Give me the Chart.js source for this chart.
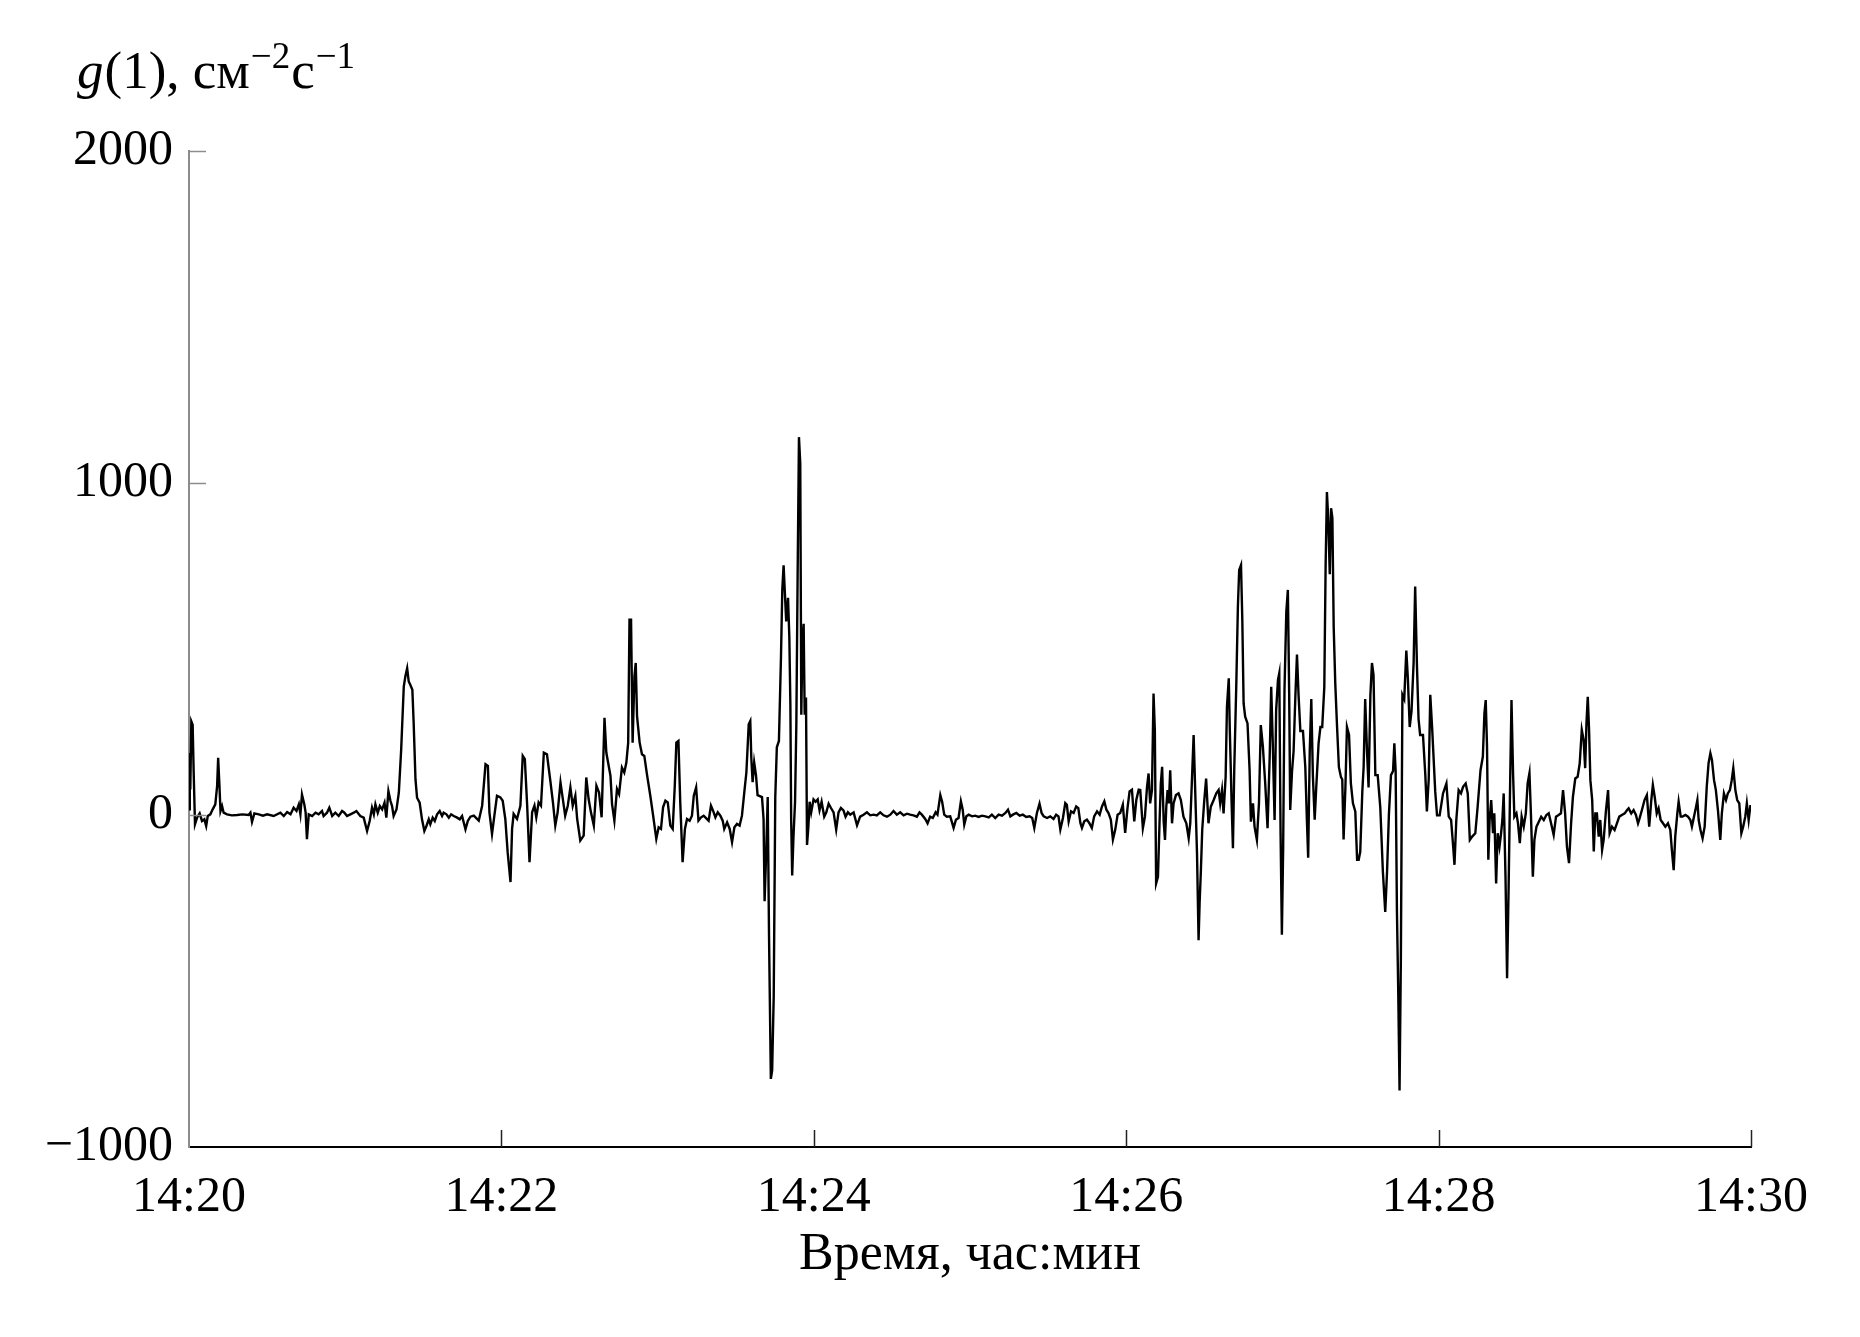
<!DOCTYPE html>
<html>
<head>
<meta charset="utf-8">
<script src="https://cdn.jsdelivr.net/npm/chart.js@4.4.1/dist/chart.umd.min.js"></script>
<style>
    body { margin: 0; background: #fff; }
    #wrap { width: 1860px; height: 1337px; }
</style>
</head>
<body>
<div id="wrap"><canvas id="flux-chart"></canvas></div>
<script>
// Samples: [seconds after 14:20:00, g(1) value]
const g1420 = [
    [0, 17], [0.3, 187], [0.5, 77], [0.9, 282], [1.4, 272], [1.8, 127], [2.3, -28], [3.1, -8], [4.1, 5], [5.0, -18],
    [5.9, -13], [6.6, -33], [7.2, -3], [8.2, 2], [9.1, 17], [10.1, 32], [10.8, 87], [11.2, 172], [11.7, 87], [12.1, 12],
    [12.7, 27], [13.3, 7], [14.6, 2], [16.5, -1], [18.5, 0], [20.5, 2], [22.9, 0], [23.6, 7], [24.2, -21], [25.1, 5],
    [26.8, 2], [28.4, -2], [30.0, 2], [32.5, -3], [35.1, 7], [36.4, -3], [37.7, 9], [39.0, 2], [40.2, 22], [41.3, 12],
    [42.2, 32], [42.8, 2], [43.4, 62], [44.3, 32], [44.8, 7], [45.3, -73], [46.0, 2], [47.3, -3], [48.6, 7], [49.8, 2],
    [51.1, 12], [51.7, -3], [53.0, 7], [53.9, 22], [55.0, -3], [56.2, 7], [57.5, -3], [58.8, 12], [59.7, 7], [60.7, -3],
    [62.0, 2], [63.3, 7], [64.3, 12], [65.8, -3], [67.1, -8], [68.4, -48], [69.4, -18], [70.3, 22], [71.0, 2], [71.6, 32],
    [72.5, 7], [73.3, 27], [74.2, 17], [75.1, 37], [75.8, -8], [76.6, 72], [77.4, 42], [78.0, 27], [78.6, -3], [79.7, 17],
    [80.6, 67], [81.5, 197], [82.5, 387], [83.1, 417], [83.8, 442], [84.4, 402], [85.0, 392], [85.8, 377], [86.3, 277], [87.0, 107],
    [87.6, 52], [88.6, 37], [89.5, -13], [90.4, -48], [91.2, -33], [92.1, -13], [92.7, -28], [93.6, -8], [94.4, -18], [95.3, 2],
    [96.3, 12], [97.2, -3], [97.8, 7], [98.9, 2], [99.8, -8], [100.7, 2], [101.7, -3], [103.0, -8], [104.0, -13], [104.9, -3],
    [106.2, -43], [107.1, -18], [108.1, -5], [109.4, -2], [111.3, -17], [112.6, 28], [113.9, 153], [114.8, 148], [115.4, 8], [116.4, -57],
    [117.3, -2], [118.3, 58], [119.6, 53]
];
const g1422 = [
    [120.5, 43], [121.5, -12], [122.4, -112], [123.5, -202], [124.1, -42], [124.7, 3], [126.0, -12], [127.3, 28], [128.2, 178], [129.0, 168],
    [129.9, 28], [130.8, -142], [131.8, 8], [132.7, 28], [133.4, -7], [134.3, 38], [135.2, 28], [136.3, 188], [137.5, 183], [138.8, 103],
    [139.8, 38], [140.7, -32], [141.6, 8], [142.7, 98], [143.6, 48], [144.5, -2], [145.5, 28], [146.5, 83], [147.4, 28], [148.4, 58],
    [149.1, -12], [150.3, -77], [151.6, -62], [152.6, 113], [153.5, 48], [154.4, 8], [155.5, -32], [156.5, 88], [157.5, 68], [158.5, -7],
    [159.6, 293], [160.3, 188], [161.1, 153], [161.9, 118], [162.5, 33], [163.4, -17], [164.4, 78], [165.2, 63], [166.3, 143], [167.2, 128],
    [168.0, 158], [168.7, 218], [169.2, 588], [169.8, 588], [170.4, 218], [171.1, 418], [171.6, 458], [172.1, 298], [173.1, 218], [174.0, 183],
    [174.9, 178], [175.9, 123], [177.2, 58], [178.2, 3], [179.5, -72], [180.4, -37], [181.3, -42], [182.1, 23], [183.0, 43], [183.9, 38],
    [184.9, -32], [185.8, -42], [186.6, 88], [187.2, 218], [188.0, 223], [188.7, 38], [189.6, -142], [190.5, -42], [191.3, -12], [192.3, -17],
    [193.2, -2], [193.9, 58], [194.8, 83], [195.7, -17], [196.7, -7], [197.7, -2], [198.7, -10], [199.6, -17], [200.5, 28], [201.3, 13],
    [202.2, -7], [203.1, 8], [204.1, -2], [205.0, -17], [205.6, -42], [206.7, -22], [207.7, -42], [208.6, -82], [209.5, -37], [210.5, -27],
    [211.5, -32], [212.4, -2], [213.3, 68], [214.1, 128], [215.0, 273], [215.6, 283], [216.0, 171], [216.5, 99], [217.1, 158], [217.8, 119],
    [218.4, 60], [220.1, 54], [220.7, -12], [221.1, -260], [221.7, -116], [222.3, 54], [222.8, -364], [223.5, -795], [224.0, -769], [224.6, -547],
    [225.2, 54], [225.8, 204], [226.6, 223], [227.4, 478], [227.9, 680], [228.4, 752], [228.9, 667], [229.4, 583], [230.1, 654], [230.6, 537],
    [231.0, 334], [231.3, -12], [231.7, -182], [232.2, -64], [232.8, 40], [233.3, 276], [233.8, 733], [234.3, 1138], [234.8, 1059], [235.2, 302],
    [235.6, 511], [236.1, 576], [236.5, 302], [237.0, 354], [237.4, -90], [237.9, -38], [238.4, 40], [239.0, 8], [239.9, 47]
];
const g1424 = [
    [240.7, 40], [241.5, 47], [242.2, 14], [243.0, 40], [244.0, -5], [244.8, 8], [245.7, 34], [246.6, 21], [247.6, 8], [248.6, -44],
    [249.5, 8], [250.4, 21], [251.4, 14], [252.2, -5], [253.1, 8], [254.0, 1], [255.3, 8], [256.6, -31], [257.8, -5], [259.1, 1],
    [260.4, 8], [261.7, -1], [263.0, 1], [264.2, -1], [265.5, 8], [266.8, -1], [268.1, -5], [269.4, 1], [270.6, 12], [271.9, 1],
    [273.2, 8], [274.5, -1], [275.8, 4], [277.0, 1], [278.3, -1], [279.6, -5], [280.6, 8], [281.5, 1], [282.8, -12], [283.7, -25],
    [284.7, -5], [285.7, -9], [286.8, 8], [287.5, 1], [288.6, 60], [289.3, 40], [290.1, 1], [291.1, -5], [292.4, -4], [293.7, -39],
    [294.6, -14], [295.6, -9], [296.5, 41], [297.2, 16], [297.8, -29], [298.6, -4], [299.5, 1], [300.8, -4], [302.0, -2], [303.3, -6],
    [304.6, -2], [305.9, -4], [307.2, -7], [308.4, 1], [309.7, -9], [311.0, 1], [312.3, -2], [313.6, 6], [314.6, 16], [315.5, -4],
    [316.5, 1], [317.8, 6], [319.1, -2], [320.3, 1], [321.6, -6], [322.9, -4], [323.9, -9], [324.7, -39], [325.7, 6], [326.7, 34],
    [327.5, 6], [328.3, -4], [329.6, -9], [330.8, -4], [332.1, -12], [333.1, 1], [334.0, -4], [334.7, -44], [335.7, -9], [336.6, 36],
    [337.2, 31], [337.9, -19], [338.8, 11], [339.8, 6], [340.8, 26], [341.6, 21], [342.4, -24], [343.0, -39], [343.9, -19], [344.9, -14],
    [345.8, -24], [346.8, -39], [347.7, -4], [348.8, 11], [349.8, 1], [350.7, 26], [351.6, 41], [352.4, 16], [353.2, 6], [354.1, -14],
    [354.9, -74], [355.8, -44], [356.7, 1], [357.7, 6], [358.7, 31], [359.6, -54]
];
const g1426 = [
    [360.5, 21], [361.3, 71], [362.2, 76], [363.1, -19], [363.9, 46], [364.8, 76], [365.4, 75], [366.4, -40], [367.2, -5], [368.0, 85],
    [368.6, 125], [369.2, 35], [369.9, 75], [370.5, 366], [371.0, 256], [371.5, -206], [372.2, -186], [372.8, -25], [373.3, 95], [373.8, 145],
    [374.4, -20], [374.9, -75], [375.4, 25], [375.9, 75], [376.4, 35], [376.9, 135], [377.6, -25], [378.2, 35], [379.1, 60], [380.1, 65],
    [381.0, 45], [382.0, -5], [383.1, -25], [384.0, -70], [384.6, -25], [385.2, 95], [385.9, 241], [386.5, 75], [387.2, -116], [387.8, -377],
    [388.2, -266], [388.7, -165], [389.2, -45], [390.0, 45], [390.7, 110], [391.6, -25], [392.5, 25], [393.6, 45], [394.6, 65], [395.5, 75],
    [396.1, 35], [396.8, 75], [397.4, 5], [398.2, 115], [398.7, 326], [399.4, 412], [399.8, 256], [400.5, 35], [401.0, -100], [401.5, 135],
    [402.3, 397], [402.9, 627], [403.4, 738], [404.1, 753], [404.6, 588], [405.1, 336], [405.7, 296], [406.6, 276], [407.4, 135], [407.9, -20],
    [408.7, 35], [409.3, -35], [410.2, -75], [411.0, 35], [411.7, 271], [412.5, 206], [413.4, 95], [414.3, -40], [415.1, 170], [415.7, 386],
    [416.3, 216], [417.0, -15], [417.6, 316], [418.3, 407], [418.8, 427], [419.3, -55], [419.8, -361], [420.3, -95], [420.8, 376], [421.5, 612],
    [422.1, 678], [422.6, 366], [423.0, 15], [423.7, 132], [424.3, 192], [425.0, 362], [425.6, 483], [426.2, 362], [426.9, 253], [427.9, 253],
    [428.8, 144], [429.4, -14], [429.9, -129], [430.5, 192], [431.1, 349], [431.7, 120], [432.4, -14], [433.0, 83], [433.9, 216], [434.6, 265],
    [435.3, 265], [436.1, 386], [436.6, 749], [437.1, 973], [437.6, 894], [438.2, 725], [438.7, 924], [439.2, 894], [439.7, 567], [440.3, 398],
    [441.0, 265], [441.7, 144], [442.5, 114], [443.0, 107], [443.5, -74], [444.2, 83], [444.8, 265], [445.6, 241], [446.3, 95], [447.1, 35],
    [448.0, 11], [448.7, -135], [449.3, -135], [449.9, -111], [450.7, 71], [451.2, 144], [451.8, 349], [452.5, 192], [453.1, 83], [453.8, 362],
    [454.4, 458], [455.0, 422], [455.7, 120], [456.6, 120], [457.6, 23], [458.6, -171], [459.5, -292], [460.2, -171], [460.9, -1], [461.7, 120],
    [462.5, 132], [463.0, 216], [463.5, 132], [464.0, -292], [464.5, -534], [465.0, -830], [465.5, -437], [466.1, 362], [466.8, 349], [467.6, 495],
    [468.2, 410], [468.9, 265], [469.6, 313], [470.4, 458], [471.0, 688], [471.7, 446], [472.3, 289], [472.9, 241], [474.0, 241], [474.9, 120],
    [475.5, 11], [476.2, 107], [476.8, 362], [477.5, 265], [478.1, 168], [478.7, 71], [479.4, -1], [480.4, -1]
];
const g1428 = [
    [481.7, 65], [483.0, 95], [483.9, -5], [484.8, -15], [485.6, -95], [486.1, -150], [486.8, -15], [487.7, 75], [488.6, 65], [489.4, 85],
    [490.4, 95], [491.2, 65], [492.0, -75], [492.9, -65], [494.1, -55], [495.0, 25], [496.1, 135], [497.0, 176], [497.6, 306], [498.1, 346],
    [498.6, 206], [499.1, -135], [499.6, -15], [500.2, 45], [500.9, -55], [501.4, 5], [502.1, -206], [502.7, -55], [503.4, -95], [504.0, -55],
    [504.5, -15], [505.0, 65], [505.7, -186], [506.3, -492], [506.9, -216], [507.5, 106], [508.0, 346], [508.6, 126], [509.1, -5], [509.9, 5],
    [510.5, -25], [511.2, -85], [511.9, -5], [512.7, -35], [513.5, 5], [514.2, 95], [514.9, 126], [515.5, -5], [516.2, -186], [516.8, -75],
    [517.6, -35], [518.5, -20], [519.4, -5], [520.4, -15], [521.4, 0], [522.3, 5], [523.2, -25], [524.2, -60], [525.1, -5], [526.1, 0],
    [527.0, 5], [527.8, 75], [528.6, 5], [529.3, -95], [530.1, -145], [530.9, -25], [531.6, 55], [532.5, 110], [533.4, 115], [534.2, 155],
    [535.0, 256], [535.7, 226], [536.3, 141], [536.8, 276], [537.3, 356], [537.8, 256], [538.3, 105], [539.0, 45], [539.6, -110], [540.2, 5],
    [540.8, 5], [541.5, -65], [542.1, -15], [542.8, -105], [543.4, -75], [544.3, 15], [545.1, 75], [545.7, -55], [546.6, -35], [547.6, -45],
    [548.5, -25], [549.4, -5], [550.4, 0], [551.5, 5], [552.4, 15], [553.0, 20], [554.0, 5], [554.9, 15], [555.8, 0], [556.6, -25],
    [557.2, -10], [558.1, 15], [559.1, 45], [560.0, 60], [560.9, -35], [561.7, 45], [562.3, 90], [563.0, 55], [563.8, 5], [564.5, 20],
    [565.3, -15], [566.2, -25], [567.1, -35], [568.1, -25], [569.0, -45], [569.6, -105], [570.3, -166], [570.9, -65], [571.7, 5], [572.2, 40],
    [573.0, -5], [573.7, -5], [574.8, 0], [575.8, -5], [576.7, -15], [577.3, -35], [578.1, -5], [578.9, 25], [579.4, 45], [579.9, -15],
    [580.6, -45], [581.4, -70], [582.2, -35], [583.0, 85], [583.7, 156], [584.4, 186], [585.0, 166], [585.8, 105], [586.5, 75], [587.3, 15],
    [588.2, -75], [588.8, 5], [589.6, 65], [590.4, 45], [591.1, 65], [591.9, 75], [592.6, 105], [593.2, 141], [594.0, 75], [594.7, 45],
    [595.5, 35], [596.3, -55], [597.0, -35], [597.8, -5], [598.4, 35], [599.1, -15], [599.8, 30]
];

// Axis ticks
const xTickLabels = ['14:20', '14:22', '14:24', '14:26', '14:28', '14:30'];
const yTickValues = [-1000, 0, 1000, 2000];

const serif = '"Liberation Serif", "Times New Roman", serif';

const series = [...g1420, ...g1422, ...g1424, ...g1426, ...g1428].map(([t, v]) => ({ x: t, y: v }));

// Inward tick marks and the y axis title
const axisDecor = {
    id: 'axisDecor',
    afterDraw(chart) {
        const { ctx, chartArea, scales: { x, y } } = chart;
        ctx.save();

        // x ticks point up into the plot
        ctx.lineWidth = 1.5;
        ctx.strokeStyle = '#222';
        x.ticks.forEach(t => {
            if (t.value === 0) return;
            const px = Math.round(x.getPixelForValue(t.value)) + 0.5;
            ctx.beginPath();
            ctx.moveTo(px, chartArea.bottom);
            ctx.lineTo(px, chartArea.bottom - 17);
            ctx.stroke();
        });

        // y ticks point right into the plot
        ctx.strokeStyle = '#8c8c8c';
        y.ticks.forEach(t => {
            if (t.value === yTickValues[0]) return;
            const py = Math.round(y.getPixelForValue(t.value)) + 0.5;
            ctx.beginPath();
            ctx.moveTo(chartArea.left, py);
            ctx.lineTo(chartArea.left + 17, py);
            ctx.stroke();
        });

        // y title: g(1), см^-2 с^-1
        ctx.fillStyle = '#000';
        ctx.textBaseline = 'alphabetic';
        ctx.textAlign = 'left';
        let cx = 77;
        const base = 88;
        const supBase = 68;
        const parts = [
            ['g', 'italic 53px ' + serif, base],
            ['(1), см', '53px ' + serif, base],
            ['\u22122', '37px ' + serif, supBase],
            ['с', '53px ' + serif, base],
            ['\u22121', '37px ' + serif, supBase]
        ];
        parts.forEach(([txt, font, by]) => {
            ctx.font = font;
            ctx.fillText(txt, cx, by);
            cx += ctx.measureText(txt).width + 1;
        });

        ctx.restore();
    }
};

Chart.defaults.font.family = serif;
Chart.defaults.color = '#000';

const ctx = document.getElementById('flux-chart').getContext('2d');
new Chart(ctx, {
    type: 'line',
    data: {
        datasets: [{
            data: series,
            borderColor: '#000',
            borderWidth: 2.4,
            pointRadius: 0,
            tension: 0,
            fill: false
        }]
    },
    options: {
        responsive: true,
        maintainAspectRatio: false,
        animation: false,
        devicePixelRatio: 1,
        layout: {
            padding: { left: 0, top: 151, right: 109, bottom: 0 }
        },
        plugins: {
            legend: { display: false },
            tooltip: { enabled: false }
        },
        scales: {
            x: {
                type: 'linear',
                min: 0,
                max: 600,
                grid: { display: false, drawTicks: false },
                border: { display: true, color: '#000', width: 2 },
                ticks: {
                    stepSize: 120,
                    padding: 21,
                    maxRotation: 0,
                    font: { size: 50 },
                    callback: (value, i) => xTickLabels[i]
                },
                title: {
                    display: true,
                    text: 'Время, час:мин',
                    font: { size: 52 },
                    padding: { top: 0, bottom: 50 }
                },
                afterFit: scale => { scale.height = 190; }
            },
            y: {
                min: yTickValues[0],
                max: yTickValues[yTickValues.length - 1],
                grid: { display: false, drawTicks: false },
                border: { display: true, color: '#8c8c8c', width: 2 },
                ticks: {
                    stepSize: 1000,
                    padding: 16,
                    font: { size: 50 },
                    callback: value => value < 0 ? '\u2212' + Math.abs(value) : String(value)
                },
                afterFit: scale => { scale.width = 189; }
            }
        }
    },
    plugins: [axisDecor]
});
</script>
</body>
</html>
